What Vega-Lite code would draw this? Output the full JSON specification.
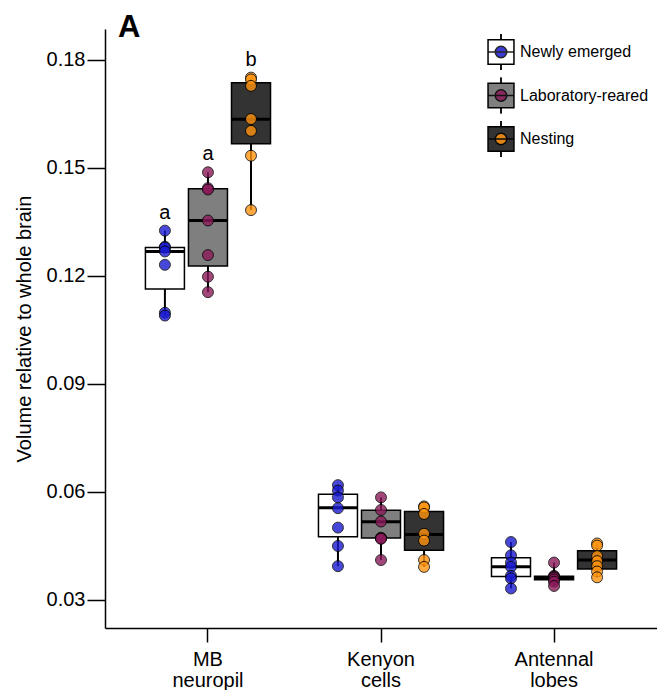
{
  "$schema": "https://vega.github.io/schema/vega-lite/v6.json",
  "width": 552,
  "height": 599,
  "padding": {"left": 14, "top": 12, "right": 0, "bottom": 0},
  "title": {"text": "A", "anchor": "start", "frame": "group", "fontSize": 31, "fontWeight": "bold", "offset": -39, "baseline": "alphabetic", "dx": 13, "color": "black"},
  "datasets": {
    "boxes": [
      {"region": "MB neuropil", "group": "Newly emerged", "lower": 0.1090, "q1": 0.1164, "median": 0.1268, "q3": 0.1279, "upper": 0.1326, "sig": "a"},
      {"region": "MB neuropil", "group": "Laboratory-reared", "lower": 0.1155, "q1": 0.1228, "median": 0.1354, "q3": 0.1442, "upper": 0.1488, "sig": "a"},
      {"region": "MB neuropil", "group": "Nesting", "lower": 0.1383, "q1": 0.1567, "median": 0.1635, "q3": 0.1737, "upper": 0.1751, "sig": "b"},
      {"region": "Kenyon cells", "group": "Newly emerged", "lower": 0.0394, "q1": 0.0476, "median": 0.0556, "q3": 0.0594, "upper": 0.0619, "sig": ""},
      {"region": "Kenyon cells", "group": "Laboratory-reared", "lower": 0.0411, "q1": 0.0472, "median": 0.0517, "q3": 0.0549, "upper": 0.0585, "sig": ""},
      {"region": "Kenyon cells", "group": "Nesting", "lower": 0.0392, "q1": 0.0438, "median": 0.0482, "q3": 0.0546, "upper": 0.0560, "sig": ""},
      {"region": "Antennal lobes", "group": "Newly emerged", "lower": 0.0332, "q1": 0.0365, "median": 0.0392, "q3": 0.0417, "upper": 0.0461, "sig": ""},
      {"region": "Antennal lobes", "group": "Laboratory-reared", "lower": 0.0339, "q1": 0.0356, "median": 0.0362, "q3": 0.0366, "upper": 0.0404, "sig": ""},
      {"region": "Antennal lobes", "group": "Nesting", "lower": 0.0363, "q1": 0.0386, "median": 0.0411, "q3": 0.0437, "upper": 0.0457, "sig": ""}
    ],
    "points": [
      {"region": "MB neuropil", "group": "Newly emerged", "v": 0.1326},
      {"region": "MB neuropil", "group": "Newly emerged", "v": 0.1281},
      {"region": "MB neuropil", "group": "Newly emerged", "v": 0.1279},
      {"region": "MB neuropil", "group": "Newly emerged", "v": 0.1268},
      {"region": "MB neuropil", "group": "Newly emerged", "v": 0.1231},
      {"region": "MB neuropil", "group": "Newly emerged", "v": 0.1098},
      {"region": "MB neuropil", "group": "Newly emerged", "v": 0.1090},
      {"region": "MB neuropil", "group": "Laboratory-reared", "v": 0.1488},
      {"region": "MB neuropil", "group": "Laboratory-reared", "v": 0.1444},
      {"region": "MB neuropil", "group": "Laboratory-reared", "v": 0.1440},
      {"region": "MB neuropil", "group": "Laboratory-reared", "v": 0.1354},
      {"region": "MB neuropil", "group": "Laboratory-reared", "v": 0.1258},
      {"region": "MB neuropil", "group": "Laboratory-reared", "v": 0.1198},
      {"region": "MB neuropil", "group": "Laboratory-reared", "v": 0.1155},
      {"region": "MB neuropil", "group": "Nesting", "v": 0.1751},
      {"region": "MB neuropil", "group": "Nesting", "v": 0.1746},
      {"region": "MB neuropil", "group": "Nesting", "v": 0.1728},
      {"region": "MB neuropil", "group": "Nesting", "v": 0.1636},
      {"region": "MB neuropil", "group": "Nesting", "v": 0.1603},
      {"region": "MB neuropil", "group": "Nesting", "v": 0.1534},
      {"region": "MB neuropil", "group": "Nesting", "v": 0.1383},
      {"region": "Kenyon cells", "group": "Newly emerged", "v": 0.0619},
      {"region": "Kenyon cells", "group": "Newly emerged", "v": 0.0604},
      {"region": "Kenyon cells", "group": "Newly emerged", "v": 0.0585},
      {"region": "Kenyon cells", "group": "Newly emerged", "v": 0.0555},
      {"region": "Kenyon cells", "group": "Newly emerged", "v": 0.0501},
      {"region": "Kenyon cells", "group": "Newly emerged", "v": 0.0450},
      {"region": "Kenyon cells", "group": "Newly emerged", "v": 0.0394},
      {"region": "Kenyon cells", "group": "Laboratory-reared", "v": 0.0585},
      {"region": "Kenyon cells", "group": "Laboratory-reared", "v": 0.0550},
      {"region": "Kenyon cells", "group": "Laboratory-reared", "v": 0.0518},
      {"region": "Kenyon cells", "group": "Laboratory-reared", "v": 0.0473},
      {"region": "Kenyon cells", "group": "Laboratory-reared", "v": 0.0471},
      {"region": "Kenyon cells", "group": "Laboratory-reared", "v": 0.0470},
      {"region": "Kenyon cells", "group": "Laboratory-reared", "v": 0.0411},
      {"region": "Kenyon cells", "group": "Nesting", "v": 0.0560},
      {"region": "Kenyon cells", "group": "Nesting", "v": 0.0557},
      {"region": "Kenyon cells", "group": "Nesting", "v": 0.0539},
      {"region": "Kenyon cells", "group": "Nesting", "v": 0.0484},
      {"region": "Kenyon cells", "group": "Nesting", "v": 0.0465},
      {"region": "Kenyon cells", "group": "Nesting", "v": 0.0411},
      {"region": "Kenyon cells", "group": "Nesting", "v": 0.0392},
      {"region": "Antennal lobes", "group": "Newly emerged", "v": 0.0461},
      {"region": "Antennal lobes", "group": "Newly emerged", "v": 0.0424},
      {"region": "Antennal lobes", "group": "Newly emerged", "v": 0.0404},
      {"region": "Antennal lobes", "group": "Newly emerged", "v": 0.0392},
      {"region": "Antennal lobes", "group": "Newly emerged", "v": 0.0367},
      {"region": "Antennal lobes", "group": "Newly emerged", "v": 0.0360},
      {"region": "Antennal lobes", "group": "Newly emerged", "v": 0.0332},
      {"region": "Antennal lobes", "group": "Laboratory-reared", "v": 0.0404},
      {"region": "Antennal lobes", "group": "Laboratory-reared", "v": 0.0367},
      {"region": "Antennal lobes", "group": "Laboratory-reared", "v": 0.0365},
      {"region": "Antennal lobes", "group": "Laboratory-reared", "v": 0.0362},
      {"region": "Antennal lobes", "group": "Laboratory-reared", "v": 0.0357},
      {"region": "Antennal lobes", "group": "Laboratory-reared", "v": 0.0351},
      {"region": "Antennal lobes", "group": "Laboratory-reared", "v": 0.0339},
      {"region": "Antennal lobes", "group": "Nesting", "v": 0.0457},
      {"region": "Antennal lobes", "group": "Nesting", "v": 0.0451},
      {"region": "Antennal lobes", "group": "Nesting", "v": 0.0422},
      {"region": "Antennal lobes", "group": "Nesting", "v": 0.0408},
      {"region": "Antennal lobes", "group": "Nesting", "v": 0.0394},
      {"region": "Antennal lobes", "group": "Nesting", "v": 0.0379},
      {"region": "Antennal lobes", "group": "Nesting", "v": 0.0363}
    ]
  },
  "encoding": {
    "x": {
      "field": "region", "type": "nominal",
      "scale": {"domain": ["MB neuropil", "Kenyon cells", "Antennal lobes"], "paddingInner": 0, "paddingOuter": 0.095},
      "axis": {"title": null, "labelAngle": 0, "labelFontSize": 20, "tickSize": 14, "labelPadding": 7, "labelExpr": "split(datum.label, ' ')", "labelLineHeight": 21, "domainColor": "black", "domainWidth": 1.5, "tickColor": "black", "tickWidth": 1.5, "labelColor": "black"}
    },
    "xOffset": {
      "field": "group", "type": "nominal",
      "scale": {"domain": ["Newly emerged", "Laboratory-reared", "Nesting"], "paddingInner": 0, "paddingOuter": 0.51}
    }
  },
  "layer": [
    {
      "data": {"name": "boxes"},
      "mark": {"type": "rule", "color": "black", "strokeWidth": 2},
      "encoding": {
        "y": {
          "field": "lower", "type": "quantitative",
          "scale": {"domain": [0.02222, 0.1886], "nice": false, "zero": false},
          "axis": {"title": "Volume relative to whole brain", "values": [0.03, 0.06, 0.09, 0.12, 0.15, 0.18], "format": ".2f", "tickSize": 18, "labelPadding": 2, "labelFontSize": 20, "titleFontSize": 20, "titleFontWeight": "normal", "titlePadding": 12, "domainColor": "black", "domainWidth": 1.5, "tickColor": "black", "tickWidth": 1.5, "labelColor": "black", "titleColor": "black", "grid": false}
        },
        "y2": {"field": "upper"}
      }
    },
    {
      "data": {"name": "boxes"},
      "mark": {"type": "bar", "width": 39, "stroke": "black", "strokeWidth": 1.5},
      "encoding": {
        "y": {"field": "q1", "type": "quantitative"},
        "y2": {"field": "q3"},
        "fill": {
          "field": "group", "type": "nominal",
          "scale": {"domain": ["Newly emerged", "Laboratory-reared", "Nesting"], "range": ["#ffffff", "#7f7f7f", "#333333"]},
          "legend": {"orient": "none", "legendX": 377, "legendY": 4, "title": null, "symbolType": "M-0.72,-0.68H0.72V0.68H-0.72Z M0,-1V-0.68 M0,0.68V1", "symbolSize": 1296, "symbolStrokeColor": "black", "symbolStrokeWidth": 1.5, "labelFontSize": 16, "labelColor": "black", "rowPadding": 1.5, "labelOffset": 0, "padding": 0}
        }
      }
    },
    {
      "data": {"name": "boxes"},
      "mark": {"type": "tick", "color": "black", "thickness": 3, "size": 39, "opacity": 1},
      "encoding": {
        "y": {"field": "median", "type": "quantitative"}
      }
    },
    {
      "data": {"name": "points"},
      "mark": {"type": "point", "filled": true, "size": 120, "opacity": 0.8, "stroke": "black", "strokeWidth": 1},
      "encoding": {
        "y": {"field": "v", "type": "quantitative"},
        "color": {
          "field": "group", "type": "nominal",
          "sort": ["Newly emerged", "Laboratory-reared", "Nesting"],
          "scale": {"range": ["#1a1ad0", "#8b1a5a", "#ff9410"]},
          "legend": {"orient": "none", "legendX": 377, "legendY": 4, "title": null, "symbolType": "M0,-1V-0.68 M0,0.68V1 M-0.72,0H0.72 M-0.32,0A0.32,0.32,0,1,1,0.32,0A0.32,0.32,0,1,1,-0.32,0Z", "symbolSize": 1296, "symbolStrokeColor": "black", "symbolStrokeWidth": 1.5, "symbolOpacity": 0.85, "labelFontSize": 16, "labelOpacity": 0, "rowPadding": 1.5, "labelOffset": 0, "padding": 0}
        }
      }
    },
    {
      "data": {"name": "boxes"},
      "mark": {"type": "text", "fontSize": 20, "dy": -12, "baseline": "alphabetic", "color": "black"},
      "encoding": {
        "y": {"field": "upper", "type": "quantitative"},
        "text": {"field": "sig"}
      }
    }
  ],
  "config": {
    "font": "Liberation Sans",
    "view": {"stroke": null}
  }
}
